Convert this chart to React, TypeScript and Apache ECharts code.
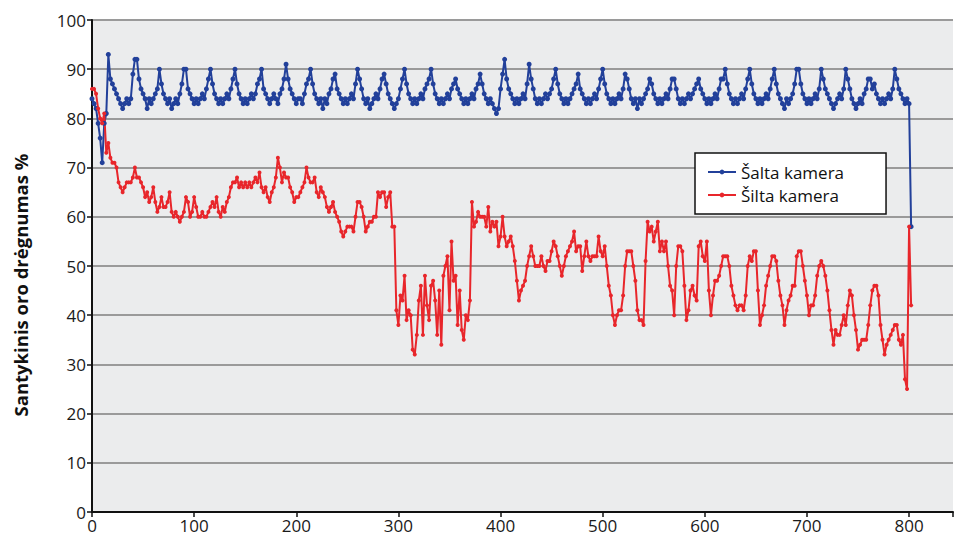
import React, { useEffect, useRef } from "react";
import * as echarts from "echarts";

// x step between consecutive readings (hours)
const X_STEP = 2;

const SERIES_NAMES = ["Šalta kamera", "Šilta kamera"];
const Y_TITLE = "Santykinis oro drėgnumas %";

// Šalta kamera (x = 0, 2, 4, ...)
const SALTA: number[] = [
  84, 83, 82, 79, 76, 71, 79, 81, 93, 88,
  87, 86, 85, 84, 83, 82, 83, 84, 83, 84,
  89, 92, 92, 88, 86, 85, 84, 82, 84, 83,
  84, 85, 86, 90, 87, 85, 84, 83, 84, 82,
  83, 84, 83, 85, 87, 90, 90, 86, 85, 84,
  83, 84, 83, 84, 85, 84, 86, 88, 90, 87,
  85, 84, 83, 84, 83, 84, 85, 84, 86, 88,
  90, 87, 85, 84, 83, 84, 83, 84, 85, 84,
  85, 87, 88, 90, 86, 85, 84, 83, 84, 85,
  84, 83, 85, 86, 88, 91, 88, 86, 85, 84,
  83, 84, 84, 83, 85, 87, 88, 90, 87, 85,
  84, 83, 84, 82, 84, 83, 85, 86, 88, 89,
  86, 85, 84, 83, 84, 83, 84, 85, 84, 87,
  90, 88, 86, 84, 83, 84, 82, 83, 84, 85,
  84, 86, 88, 89, 87, 85, 84, 83, 82, 83,
  84, 86, 88, 90, 87, 85, 84, 83, 84, 83,
  84, 85, 84, 86, 87, 88, 90, 87, 85, 84,
  83, 84, 83, 84, 85, 84, 86, 87, 88, 86,
  85, 84, 83, 84, 83, 84, 85, 84, 86, 87,
  89, 87, 85, 84, 83, 84, 83, 82, 81, 82,
  86, 89, 92, 88, 86, 85, 84, 83, 84, 83,
  84, 85, 84, 87, 91, 88, 86, 84, 83, 84,
  83, 84, 85, 84, 85, 86, 88, 90, 87, 85,
  84, 83, 84, 83, 84, 85, 86, 87, 89, 86,
  85, 84, 83, 84, 83, 84, 85, 84, 86, 88,
  90, 87, 85, 84, 83, 84, 83, 84, 85, 84,
  86, 89, 88, 86, 84, 83, 84, 82, 84, 83,
  84, 85, 86, 88, 87, 85, 84, 83, 84, 83,
  84, 85, 84, 86, 88, 88, 86, 84, 83, 84,
  83, 84, 85, 84, 85, 86, 87, 88, 86, 85,
  84, 83, 84, 83, 84, 85, 84, 86, 88, 88,
  90, 87, 85, 84, 83, 84, 83, 84, 85, 84,
  86, 88, 90, 87, 85, 84, 83, 84, 83, 84,
  85, 84, 86, 88, 90, 87, 85, 84, 83, 82,
  84, 83, 84, 85, 87, 90, 90, 87, 85, 84,
  83, 84, 83, 84, 85, 84, 86, 90, 88, 86,
  85, 84, 83, 82, 83, 84, 85, 84, 86, 90,
  88, 86, 84, 83, 82, 83, 84, 83, 85, 86,
  88, 88, 86, 87, 85, 84, 83, 84, 83, 84,
  85, 84, 86, 90, 88, 86, 85, 84, 83, 84,
  83, 58,
];

// Šilta kamera (x = 0, 2, 4, ...)
const SILTA: number[] = [
  86, 86, 85, 82, 80, 79, 81, 73, 75, 72,
  71, 71, 70, 67, 66, 65, 66, 67, 67, 67,
  68, 70, 68, 68, 67, 66, 64, 65, 63, 64,
  66, 63, 61, 62, 64, 62, 62, 63, 65, 61,
  60, 61, 60, 59, 60, 61, 64, 63, 60, 61,
  64, 62, 60, 60, 61, 60, 60, 61, 62, 63,
  62, 64, 61, 60, 62, 61, 63, 64, 66, 67,
  67, 68, 66, 67, 66, 67, 66, 67, 66, 67,
  68, 67, 69, 66, 65, 66, 64, 63, 65, 66,
  68, 72, 70, 67, 69, 68, 68, 66, 65, 63,
  64, 64, 65, 66, 67, 70, 68, 67, 67, 68,
  65, 64, 66, 65, 64, 62, 61, 62, 63, 61,
  60, 59, 57, 56, 57, 58, 58, 58, 57, 60,
  63, 63, 62, 60, 57, 58, 59, 59, 60, 60,
  65, 64, 65, 65, 62, 64, 65, 58, 58, 41,
  38, 44, 43, 48, 39, 41, 40, 33, 32, 36,
  43, 46, 36, 48, 42, 39, 46, 47, 43, 36,
  45, 34, 48, 50, 52, 41, 55, 47, 48, 38,
  45, 37, 35, 40, 39, 43, 63, 58, 59, 61,
  60, 60, 60, 58, 62, 57, 59, 58, 59, 54,
  56, 60, 56, 54, 55, 56, 54, 51, 47, 43,
  45, 46, 47, 50, 52, 54, 52, 50, 50, 50,
  52, 50, 49, 51, 51, 53, 55, 54, 52, 50,
  48, 50, 52, 53, 54, 55, 57, 53, 54, 54,
  49, 52, 55, 52, 51, 52, 52, 52, 56, 53,
  52, 54, 50, 46, 44, 40, 38, 40, 41, 41,
  44, 50, 53, 53, 53, 50, 47, 41, 39, 39,
  38, 51, 59, 57, 58, 55, 57, 59, 53, 55,
  53, 55, 50, 46, 45, 40, 50, 54, 54, 53,
  46, 39, 41, 45, 46, 44, 43, 54, 55, 52,
  51, 55, 45, 40, 44, 47, 47, 48, 50, 52,
  52, 52, 50, 46, 44, 42, 41, 42, 42, 41,
  44, 50, 52, 51, 53, 53, 45, 38, 40, 42,
  46, 48, 50, 52, 52, 51, 47, 44, 42, 38,
  41, 43, 44, 46, 46, 52, 53, 53, 50, 47,
  44, 40, 42, 42, 44, 48, 50, 51, 50, 48,
  45, 41, 37, 34, 37, 36, 36, 38, 40, 38,
  42, 45, 44, 40, 37, 33, 34, 35, 35, 35,
  38, 42, 45, 46, 46, 44, 38, 35, 32, 34,
  35, 36, 37, 38, 38, 35, 34, 36, 27, 25,
  58, 42,
];

const X_MIN = 0;
const X_MAX = 843;
const X_INTERVAL = 100;
const Y_MIN = 0;
const Y_MAX = 100;
const Y_INTERVAL = 10;

const FONT = "'Open Sans', 'Noto Sans', 'Liberation Sans', sans-serif";

export default function App() {
  const ref = useRef<HTMLDivElement>(null);

  useEffect(() => {
    if (!ref.current) return;
    const chart = echarts.init(ref.current, null, { renderer: "svg" });
    const toPairs = (arr: number[]) => arr.map((v, i) => [i * X_STEP, v]);

    chart.setOption({
      animation: false,
      backgroundColor: "#ffffff",
      textStyle: { fontFamily: FONT },
      grid: {
        left: 92,
        top: 20,
        right: 0,
        bottom: 25,
        show: true,
        backgroundColor: "#ebeced",
        borderWidth: 0,
      },
      legend: {
        orient: "vertical",
        left: 695,
        top: 153,
        backgroundColor: "#ffffff",
        borderColor: "#111111",
        borderWidth: 1.5,
        padding: [10, 42, 10, 12],
        itemWidth: 28,
        itemHeight: 6,
        itemGap: 5,
        textStyle: {
          fontFamily: FONT,
          fontSize: 17,
          lineHeight: 18,
          color: "#111111",
        },
        data: SERIES_NAMES,
      },
      graphic: [
        {
          type: "text",
          x: 20,
          y: 285,
          rotation: Math.PI / 2,
          style: {
            text: Y_TITLE,
            align: "center",
            verticalAlign: "middle",
            font: `bold 18.5px ${FONT}`,
            fill: "#111111",
          },
        },
      ],
      xAxis: {
        type: "value",
        min: X_MIN,
        max: X_MAX,
        interval: X_INTERVAL,
        axisLine: { show: true, lineStyle: { color: "#111111", width: 2 } },
        axisTick: { show: true, length: 5, lineStyle: { color: "#111111", width: 1.5 } },
        splitLine: { show: false },
        axisLabel: {
          fontFamily: FONT,
          fontSize: 17,
          color: "#1a1a1a",
          margin: 5,
          formatter: (v: number) => (v % X_INTERVAL === 0 ? String(v) : ""),
        },
      },
      yAxis: {
        type: "value",
        min: Y_MIN,
        max: Y_MAX,
        interval: Y_INTERVAL,
        axisLine: { show: true, lineStyle: { color: "#111111", width: 2 } },
        axisTick: { show: true, length: 5, lineStyle: { color: "#111111", width: 1.5 } },
        splitLine: { show: true, lineStyle: { color: "#9a9a9a", width: 2 } },
        axisLabel: {
          fontFamily: FONT,
          fontSize: 17,
          color: "#1a1a1a",
          margin: 6,
        },
      },
      series: [
        {
          name: SERIES_NAMES[0],
          type: "line",
          data: toPairs(SALTA),
          symbol: "circle",
          symbolSize: 5,
          showSymbol: true,
          lineStyle: { color: "#22409a", width: 2 },
          itemStyle: { color: "#22409a" },
        },
        {
          name: SERIES_NAMES[1],
          type: "line",
          data: toPairs(SILTA),
          symbol: "circle",
          symbolSize: 4,
          showSymbol: true,
          lineStyle: { color: "#e8262b", width: 2 },
          itemStyle: { color: "#e8262b" },
        },
      ],
    });

    return () => chart.dispose();
  }, []);

  return (
    <div
      ref={ref}
      style={{ position: "fixed", left: 0, top: 0, width: 956, height: 537, background: "#fff" }}
    />
  );
}
